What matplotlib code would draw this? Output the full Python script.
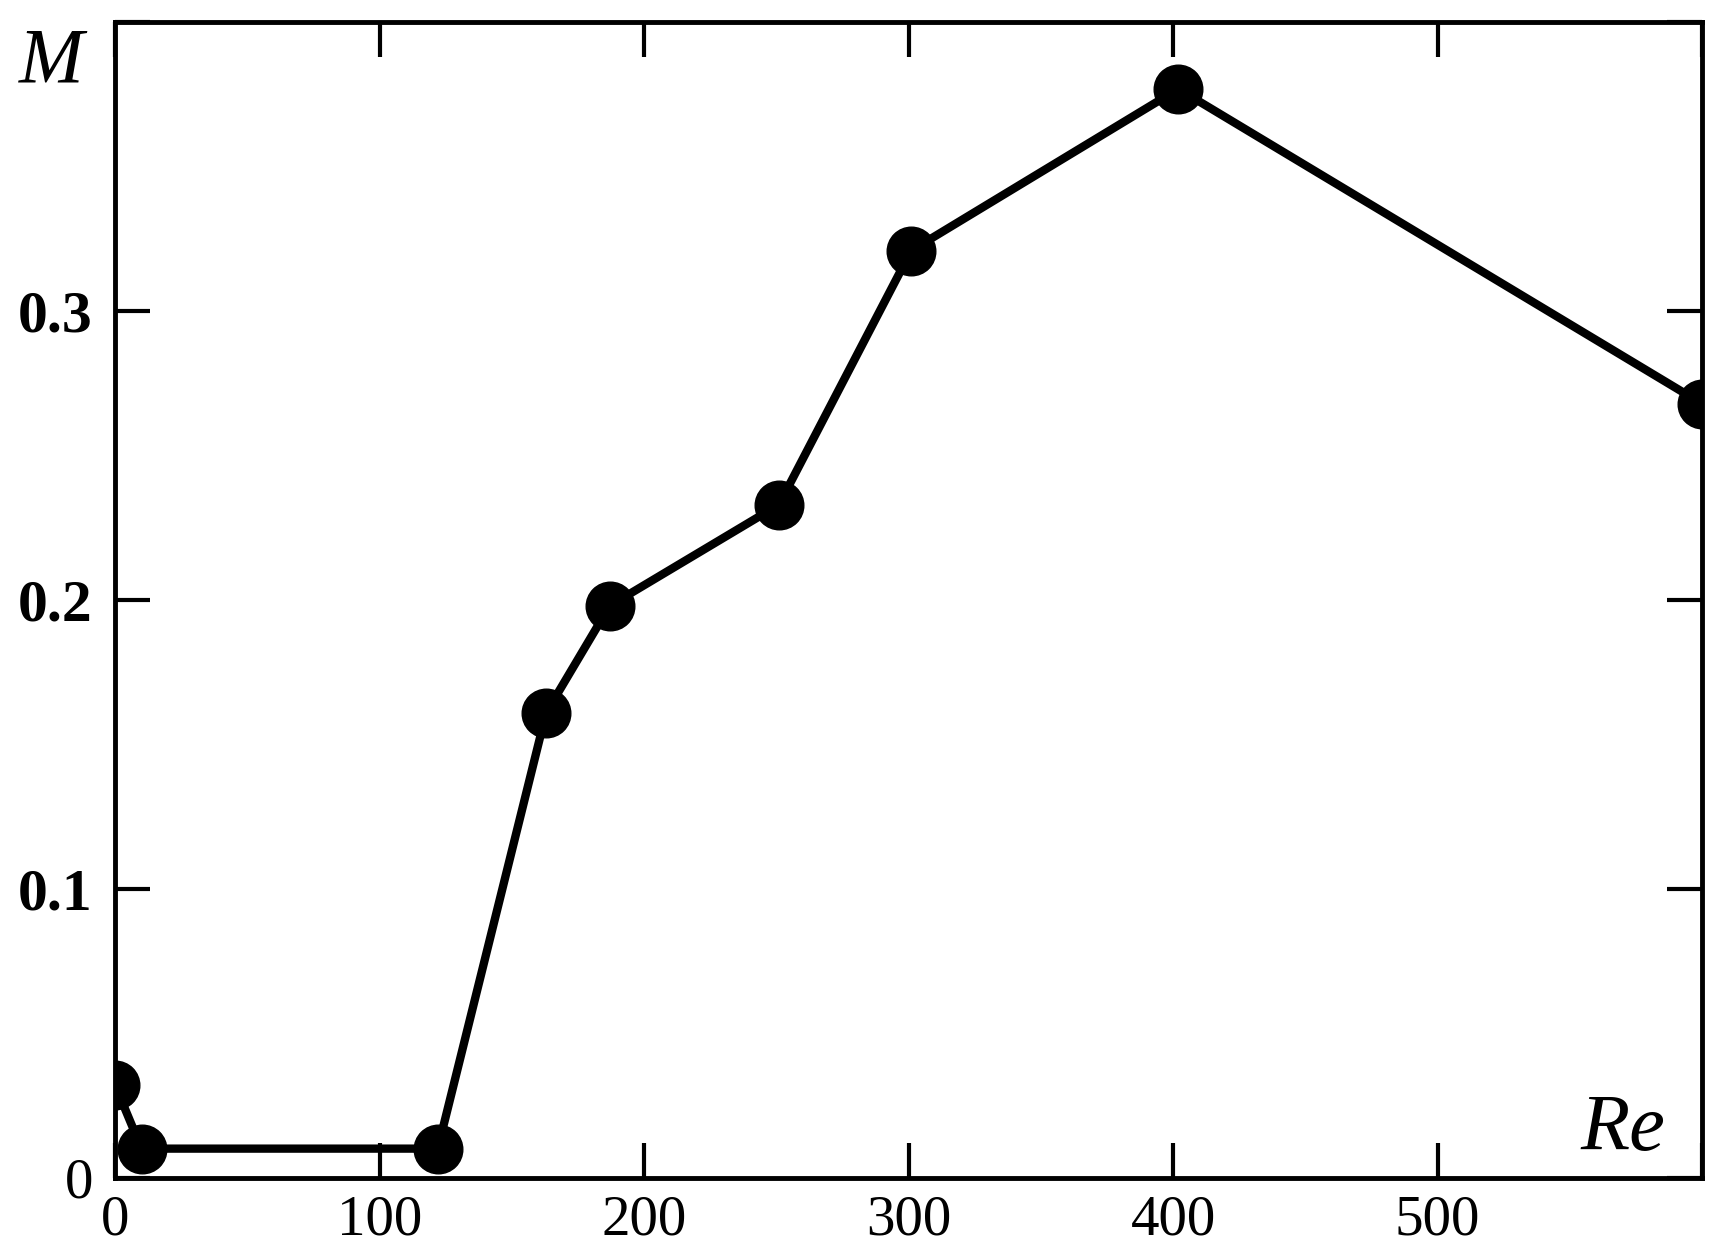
import matplotlib.pyplot as plt
import numpy as np

# data
re = [0, 10, 122, 163, 187, 251, 301, 402, 600]
m = [0.032, 0.010, 0.010, 0.161, 0.198, 0.233, 0.321, 0.377, 0.268]

xticks = [0, 100, 200, 300, 400, 500, 600]
xlabels = ['0', '100', '200', '300', '400', '500', '']
yticks = [0, 0.1, 0.2, 0.3, 0.4]
ylabels = ['0', '0.1', '0.2', '0.3', '']

plt.rcParams['font.family'] = ['Liberation Serif', 'DejaVu Serif']

fig = plt.figure(figsize=(17.18, 12.5), dpi=100)
ax = fig.add_axes([0.067, 0.058, 0.9237, 0.924])

ax.plot(re, m, color='black', lw=6, marker='o', ms=35, mfc='black', mec='black')

ax.set_xlim(0, 600)
ax.set_ylim(0, 0.4)
ax.set_xticks(xticks)
ax.set_xticklabels(xlabels)
ax.set_yticks(yticks)
ax.set_yticklabels(ylabels)
ax.tick_params(direction='in', length=25, width=3, top=True, right=True, labelsize=41)
ax.tick_params(axis='x', pad=12)
ax.tick_params(axis='y', pad=16)
for lab in ax.get_yticklabels()[1:4]:
    lab.set_fontweight('bold')
    lab.set_fontsize(43)
for s in ax.spines.values():
    s.set_linewidth(3.5)

fig.text(0.030, 0.950, 'M', fontsize=56, style='italic', ha='center', va='center')
ax.text(0.950, 0.041, 'Re', fontsize=58, style='italic', ha='center', va='center',
        transform=ax.transAxes)

plt.savefig('out.png')
